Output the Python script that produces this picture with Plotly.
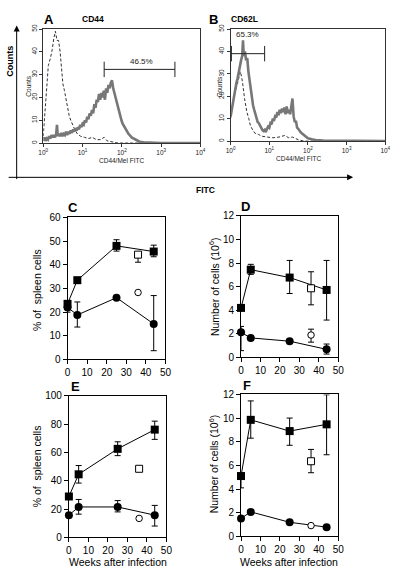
import plotly.graph_objects as go

W, H = 400, 574
def px(x): return x / W
def py(y): return 1 - y / H

FONT = "Arial, Liberation Sans, Helvetica, sans-serif"

# ---------------- Histogram data (log10 FITC position, counts) ----------------
a_solid_log = [0.00,0.03,0.06,0.09,0.12,0.15,0.18,0.21,0.24,0.27,0.30,0.33,0.35,0.37,
               0.40,0.43,0.46,0.49,0.52,0.55,0.58,0.61,0.64,0.67,0.70,0.73,0.76,0.79,0.82,0.85,0.88,0.91,0.94,0.97,
               1.00,1.03,1.06,1.09,1.12,1.15,1.18,1.21,1.24,1.27,1.30,1.33,1.36,1.39,1.42,1.45,1.48,1.51,1.54,1.57,
               1.60,1.63,1.66,1.69,1.72,1.75,1.78,1.81,1.84,1.87,1.90,1.93,1.96,1.99,2.02,2.05,2.08,2.11,2.14,2.17,
               2.20,2.25,2.30,2.35,2.40,2.45,2.55,2.70,3.00,4.00]
a_solid_cnt = [1,2.5,1,2,1.5,3,2,3.5,2.5,3.5,2.5,4,8,3,
               4,3,4.5,3,4,3.5,5,3.5,5,4,5.5,4.5,6,5,6.5,5.5,7,6,8,7,
               8.5,8,10,9,11.5,10.5,13,12,14.5,13,17,15.5,19,18,21.5,19,22,20,23,19,
               24,22,25.5,24,26.5,27.5,24,22,19.5,17,15,13,11.5,10,8.5,7.5,6.5,5.5,4.5,4,
               3.5,2.5,2,1.5,1,0.6,0.3,0.1,0,0]
a_dash_log = [0.00,0.03,0.07,0.10,0.13,0.18,0.23,0.27,0.31,0.35,0.39,0.43,0.47,0.50,0.54,0.58,0.62,0.66,0.70,0.75,
              0.80,0.87,0.95,1.05,1.15,1.25,1.35,1.45,1.55,1.62,1.75,1.90,4.00]
a_dash_cnt = [3,10,18,28,34,37,41,46,49,45,45,40,31,26,23,19,15,12,10,7.5,
              6,4,3,2.5,2,2.5,1.5,1.5,2.5,1,0.5,0,0]

b_solid_log = [0.00,0.03,0.06,0.09,0.12,0.15,0.18,0.21,0.24,0.27,0.30,0.32,0.34,
               0.37,0.40,0.43,0.46,0.49,0.52,0.55,0.58,0.61,0.64,0.67,0.70,0.73,0.76,0.79,0.82,0.85,0.88,0.91,0.94,
               0.97,1.00,1.03,1.06,1.09,1.12,1.15,1.18,1.21,1.24,1.27,1.30,1.33,1.36,1.39,1.42,1.45,1.48,1.51,1.54,
               1.57,1.60,1.63,1.66,1.69,1.72,1.75,1.78,1.81,1.84,1.87,1.90,
               1.95,2.00,2.10,2.20,2.40,2.70,3.00,3.50,4.00]
b_solid_cnt = [11,14,17,21,24,26,28,31,33,36,38,45,38,
               40,36,37,31,27,22,19,16,14,12,10,8.5,8,6.5,6,5,4.5,5,4,5.5,
               6.5,6,8,7.5,10,9,11,10.5,13,11.5,14,12.5,14.5,13,15,12,15.5,12.5,14,12,
               15,19,11,8.5,9,6,5.5,4.5,4,3.5,3,2.5,
               1.8,1.3,0.8,0.5,0.3,0.2,0.1,0.1,0]
b_dash_log = [0.00,0.04,0.09,0.13,0.17,0.21,0.25,0.28,0.31,0.36,0.42,0.47,0.51,0.57,0.63,0.72,0.80,0.95,1.10,1.25,
              1.40,1.50,1.60,1.75,1.90,4.00]
b_dash_cnt = [10,16,20,22,25,28,31,29,26,19,13,10,7,5,3.5,3,2.2,1.8,1.5,1.8,
              2.5,1.5,1.8,0.6,0,0]

gate_a_log = [1.55, 3.35]
gate_a_cnt = 32.3
gate_a_label = "46.5%"
gate_b_log = [0.02, 0.88]
gate_b_cnt = 39
gate_b_label = "65.3%"

hist_ticks = [1, 10, 100, 1000, 10000]
hist_ticktext = ["10<sup>0</sup>", "10<sup>1</sup>", "10<sup>2</sup>", "10<sup>3</sup>", "10<sup>4</sup>"]

# ---------------- Time course data ----------------
weeks = [0, 5, 25, 44]
week_open = [36]

# C: % of spleen cells
c_sq = [23.5, 33.5, 48.0, 45.6]
c_sq_up = [0, 0, 2.6, 2.7]
c_sq_dn = [0, 0, 2.2, 2.2]
c_ci = [22.0, 18.8, 26.1, 15.0]
c_ci_up = [0, 5.5, 0, 12.0]
c_ci_dn = [2.0, 5.1, 0, 11.3]
c_osq = [44.3]; c_osq_up = [0]; c_osq_dn = [3.2]
c_oci = [28.3]

# D: number of cells (10^6)
d_sq = [4.2, 7.44, 6.77, 5.72]
d_sq_up = [0, 0.45, 1.45, 2.5]
d_sq_dn = [0, 0.4, 1.35, 2.55]
d_ci = [2.13, 1.66, 1.38, 0.69]
d_ci_up = [0.5, 0, 0, 0.45]
d_ci_dn = [1.55, 0, 0, 0.4]
d_osq = [5.86]; d_osq_up = [1.4]; d_osq_dn = [1.4]
d_oci = [1.9]; d_oci_up = [0.5]; d_oci_dn = [0.6]

# E: % of spleen cells
e_sq = [28.9, 44.6, 62.6, 76.2]
e_sq_up = [0, 6.2, 5.0, 6.0]
e_sq_dn = [0, 6.2, 4.8, 6.9]
e_ci = [15.7, 21.5, 21.5, 15.7]
e_ci_up = [0, 5.3, 4.5, 6.9]
e_ci_dn = [0, 5.1, 3.5, 7.7]
e_osq = [48.5]
e_oci = [13.4]

# F: number of cells (10^6)
f_sq = [5.1, 9.85, 8.9, 9.47]
f_sq_up = [0, 1.6, 1.1, 2.5]
f_sq_dn = [1.0, 1.55, 1.2, 2.57]
f_ci = [1.52, 2.07, 1.19, 0.78]
f_osq = [6.35]; f_osq_up = [1.0]; f_osq_dn = [0.97]
f_oci = [0.91]

fig = go.Figure()

# ---------------- Histograms ----------------
def hist_panel(n, sl, sc, dl, dc, glog, gcnt):
    xa = "x" if n == 1 else "x%d" % n
    ya = "y" if n == 1 else "y%d" % n
    fig.add_trace(go.Scatter(x=[10 ** v for v in dl], y=dc, mode="lines", xaxis=xa, yaxis=ya,
                             line=dict(color="#333333", width=1, dash="3px,2px"), showlegend=False))
    fig.add_trace(go.Scatter(x=[10 ** v for v in sl], y=sc, mode="lines", xaxis=xa, yaxis=ya,
                             line=dict(color="#777777", width=2.6), showlegend=False))
    fig.add_trace(go.Scatter(x=[10 ** v for v in glog], y=[gcnt, gcnt], mode="lines+markers", xaxis=xa, yaxis=ya,
                             line=dict(color="#222222", width=1),
                             marker=dict(symbol="line-ns", size=11, line=dict(color="#222222", width=1)),
                             showlegend=False, cliponaxis=False))

hist_panel(1, a_solid_log, a_solid_cnt, a_dash_log, a_dash_cnt, gate_a_log, gate_a_cnt)
hist_panel(2, b_solid_log, b_solid_cnt, b_dash_log, b_dash_cnt, gate_b_log, gate_b_cnt)

# ---------------- Time course panels ----------------
def err(up, dn):
    return dict(type="data", symmetric=False, array=up, arrayminus=dn, color="black", thickness=1, width=3)

def tc_panel(n, sq, squ, sqd, ci, ciu, cid, osq, osqu, osqd, oci, ociu, ocid):
    xa = "x%d" % n
    ya = "y%d" % n
    fig.add_trace(go.Scatter(x=weeks, y=sq, mode="lines+markers", xaxis=xa, yaxis=ya, cliponaxis=False,
                             line=dict(color="black", width=1), error_y=err(squ, sqd),
                             marker=dict(symbol="square", size=8, color="black"), showlegend=False))
    fig.add_trace(go.Scatter(x=weeks, y=ci, mode="lines+markers", xaxis=xa, yaxis=ya, cliponaxis=False,
                             line=dict(color="black", width=1), error_y=err(ciu, cid),
                             marker=dict(symbol="circle", size=8, color="black"), showlegend=False))
    fig.add_trace(go.Scatter(x=week_open, y=osq, mode="markers", xaxis=xa, yaxis=ya, cliponaxis=False,
                             error_y=err(osqu, osqd),
                             marker=dict(symbol="square", size=7, color="white", line=dict(color="black", width=1)),
                             showlegend=False))
    fig.add_trace(go.Scatter(x=week_open, y=oci, mode="markers", xaxis=xa, yaxis=ya, cliponaxis=False,
                             error_y=err(ociu, ocid),
                             marker=dict(symbol="circle", size=6.5, color="white", line=dict(color="black", width=1)),
                             showlegend=False))

tc_panel(3, c_sq, c_sq_up, c_sq_dn, c_ci, c_ci_up, c_ci_dn, c_osq, c_osq_up, c_osq_dn, c_oci, [0], [0])
tc_panel(4, d_sq, d_sq_up, d_sq_dn, d_ci, d_ci_up, d_ci_dn, d_osq, d_osq_up, d_osq_dn, d_oci, d_oci_up, d_oci_dn)
tc_panel(5, e_sq, e_sq_up, e_sq_dn, e_ci, e_ci_up, e_ci_dn, e_osq, [0], [0], e_oci, [0], [0])
tc_panel(6, f_sq, f_sq_up, f_sq_dn, f_ci, [0, 0, 0, 0], [0, 0, 0, 0], f_osq, f_osq_up, f_osq_dn, f_oci, [0], [0])

# ---------------- Axes ----------------
def hist_axes(xd, yd):
    xax = dict(domain=xd, type="log", range=[0, 4], tickvals=hist_ticks, ticktext=hist_ticktext,
               showline=True, mirror=True, linecolor="#333333", linewidth=1, ticks="outside", ticklen=3,
               tickcolor="#333333", showgrid=False, zeroline=False, tickfont=dict(size=6.5, family=FONT, color="#222"))
    yax = dict(domain=yd, range=[0, 50], tickvals=[0, 10, 20, 30, 40, 50], tickangle=-90,
               showline=True, mirror=True, linecolor="#333333", linewidth=1, ticks="outside", ticklen=3,
               tickcolor="#333333", showgrid=False, zeroline=False, tickfont=dict(size=6.5, family=FONT, color="#222"))
    return xax, yax

def tc_axes(xd, yd, yr, dy):
    xax = dict(domain=xd, range=[0, 50], tickvals=[0, 10, 20, 30, 40, 50], showline=True, mirror=True,
               linecolor="black", linewidth=1, ticks="outside", ticklen=4, tickcolor="black",
               showgrid=False, zeroline=False, tickfont=dict(size=10, family=FONT, color="black"))
    yax = dict(domain=yd, range=yr, dtick=dy, showline=True, mirror=True,
               linecolor="black", linewidth=1, ticks="outside", ticklen=4, tickcolor="black",
               showgrid=False, zeroline=False, tickfont=dict(size=10, family=FONT, color="black"))
    return xax, yax

xa1, ya1 = hist_axes([px(39.3), px(201)], [py(140), py(23.5)])
xa2, ya2 = hist_axes([px(232), px(391)], [py(138), py(23.5)])
xa3, ya3 = tc_axes([px(64.3), px(165)], [py(361), py(216)], [0, 60], 10)
xa4, ya4 = tc_axes([px(242.7), px(342.7)], [py(359), py(214.3)], [0, 12], 2)
xa5, ya5 = tc_axes([px(65.7), px(166)], [py(542.7), py(398.3)], [0, 100], 20)
xa6, ya6 = tc_axes([px(242.7), px(342.7)], [py(541.7), py(396.7)], [0, 12], 2)

for i, (xa, ya) in enumerate([(xa1, ya1), (xa2, ya2), (xa3, ya3), (xa4, ya4), (xa5, ya5), (xa6, ya6)], start=1):
    xk = "xaxis" if i == 1 else "xaxis%d" % i
    yk = "yaxis" if i == 1 else "yaxis%d" % i
    xa["anchor"] = "y" if i == 1 else "y%d" % i
    ya["anchor"] = "x" if i == 1 else "x%d" % i
    fig.layout[xk] = xa
    fig.layout[yk] = ya

# ---------------- Annotations ----------------
ann = []
def text(x, y, s, size, bold=False, angle=0, color="black", xanchor="center"):
    ann.append(dict(x=px(x), y=py(y), xref="paper", yref="paper", text=("<b>%s</b>" % s) if bold else s,
                    showarrow=False, font=dict(size=size, family=FONT, color=color), textangle=angle,
                    xanchor=xanchor, yanchor="middle"))

text(45, 14, "A", 13, bold=True)
text(91, 13, "CD44", 8.5, bold=True)
text(214, 14, "B", 13, bold=True)
text(246, 13, "CD62L", 8.5, bold=True)
text(140, 57, gate_a_label, 8, color="#222")
text(249, 29, gate_b_label, 8, color="#222")
text(24, 82, "Counts", 6.5, angle=-90, color="#222")
text(220, 82, "Counts", 6.5, angle=-90, color="#222")
text(120, 157.5, "CD44/Mel FITC", 6.5, color="#222")
text(302, 155.5, "CD44/Mel FITC", 6.5, color="#222")
text(5, 56, "Counts", 9, bold=True, angle=-90)
text(206, 188, "FITC", 8.5, bold=True)

text(70, 206, "C", 13, bold=True)
text(247, 205, "D", 13, bold=True)
text(72, 389, "E", 13, bold=True)
text(249, 388, "F", 13, bold=True)

text(33, 290, "% of  spleen cells", 10.5, angle=-90)
text(214, 287, "Number of cells (10<sup>6</sup>)", 10.5, angle=-90)
text(33, 470, "% of  spleen cells", 10.5, angle=-90)
text(214, 468, "Number of cells (10<sup>6</sup>)", 10.5, angle=-90)
text(116, 567.5, "Weeks after infection", 10.5)
text(292, 567.5, "Weeks after infection", 10.5)

# arrows (outer frame)
ann.append(dict(x=px(12), y=py(20), xref="paper", yref="paper", ax=0, ay=155, axref="pixel", ayref="pixel",
                showarrow=True, arrowhead=2, arrowsize=1.2, arrowwidth=1, arrowcolor="black", text=""))
ann.append(dict(x=px(358), y=py(175), xref="paper", yref="paper", ax=-346, ay=0, axref="pixel", ayref="pixel",
                showarrow=True, arrowhead=2, arrowsize=1.2, arrowwidth=1, arrowcolor="black", text=""))

fig.update_layout(annotations=ann, width=W, height=H, margin=dict(l=0, r=0, t=0, b=0),
                  paper_bgcolor="white", plot_bgcolor="white", showlegend=False,
                  font=dict(family=FONT))

fig.write_html("out.html", config={"displayModeBar": False},
               post_script="document.body.style.margin='0px';document.body.style.overflow='hidden';")
